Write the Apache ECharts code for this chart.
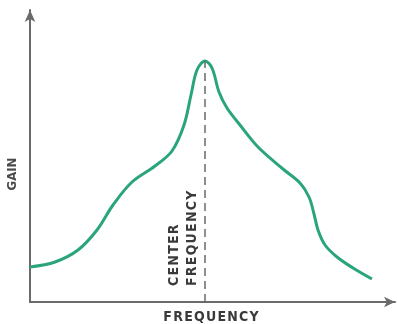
<!DOCTYPE html>
<html>
<head>
<meta charset="utf-8">
<script src="https://cdn.jsdelivr.net/npm/echarts@6/dist/echarts.min.js"></script>
<style>
  html, body { margin: 0; padding: 0; background: #fff; }
  #chart { width: 397px; height: 324px; }
</style>
</head>
<body>
<div id="chart"></div>
<script>
// frequency / gain pairs (arbitrary units)
var freq = [0, 25, 48, 67, 83, 102, 125, 142, 154, 161, 167, 175, 182, 189, 197, 210, 228, 253, 270, 279, 284, 288, 295, 307, 323, 342];
var gain = [35, 40, 52, 72, 97, 120, 136, 151, 177, 207, 232, 241, 234, 210, 194, 177, 155, 133, 119, 105, 88, 72, 57, 45, 34, 23];
var centerFreq = 175;
var peakGain = 241;

var data = freq.map(function (f, i) { return [f, gain[i]]; });

var chart = echarts.init(document.getElementById('chart'));
var axisColor = '#6b6b6b';
var textFont = 'bold 14px "DejaVu Sans Condensed", "DejaVu Sans", sans-serif';

function spaced(s) {
  return s.split('').join('\u200A');
}

chart.setOption({
  animation: false,
  grid: { left: 30, right: 2, top: 10, bottom: 22 },
  xAxis: {
    type: 'value',
    min: 0,
    max: 365,
    axisLine: {
      show: true,
      symbol: ['none', 'arrow'],
      symbolSize: [8, 11],
      lineStyle: { color: axisColor, width: 2 }
    },
    axisTick: { show: false },
    axisLabel: { show: false },
    splitLine: { show: false }
  },
  yAxis: {
    type: 'value',
    min: 0,
    max: 292,
    axisLine: {
      show: true,
      symbol: ['none', 'arrow'],
      symbolSize: [8, 12],
      lineStyle: { color: axisColor, width: 2 }
    },
    axisTick: { show: false },
    axisLabel: { show: false },
    splitLine: { show: false }
  },
  series: [{
    type: 'line',
    data: data,
    smooth: 0.35,
    showSymbol: false,
    lineStyle: { color: '#2aa57b', width: 3 },
    markLine: {
      silent: true,
      symbol: 'none',
      label: { show: false },
      lineStyle: { color: '#6a6a6a', type: [8, 5], width: 1.5 },
      data: [[{ coord: [centerFreq, 0] }, { coord: [centerFreq, peakGain] }]]
    }
  }],
  graphic: [
    {
      type: 'text',
      x: 13, y: 174,
      rotation: Math.PI / 2,
      style: { text: 'GAIN', font: 'bold 13px "DejaVu Sans Condensed", sans-serif', fill: '#4a4a4a', align: 'center', verticalAlign: 'middle' }
    },
    {
      type: 'text',
      x: 211, y: 317,
      style: { text: spaced('FREQUENCY'), font: textFont, fill: '#3a3a3a', align: 'center', verticalAlign: 'middle' }
    },
    {
      type: 'text',
      x: 183, y: 286,
      rotation: Math.PI / 2,
      style: { text: spaced('CENTER') + '\n' + spaced('FREQUENCY'), font: textFont, lineHeight: 18, fill: '#3a3a3a', align: 'left', verticalAlign: 'middle' }
    }
  ]
});
</script>
</body>
</html>
